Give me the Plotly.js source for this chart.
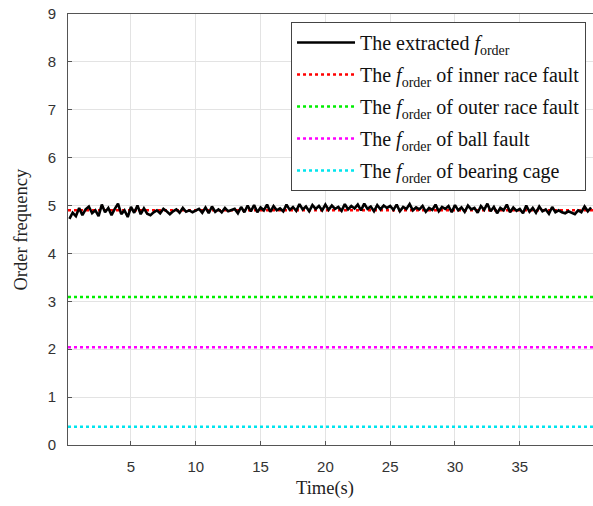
<!DOCTYPE html>
<html>
<head>
<meta charset="utf-8">
<script src="https://cdn.plot.ly/plotly-3.0.1.min.js"></script>
<style>html,body{margin:0;padding:0;background:#fff;}#chart{width:593px;height:506px;}</style>
</head>
<body>
<div id="chart"></div>
<script>
// Time axis (s)
var time = [0.25,0.5,0.75,1.0,1.25,1.5,1.75,2.0,2.25,2.5,2.75,3.0,3.25,3.5,3.75,4.0,
4.25,4.5,4.75,5.0,5.25,5.5,5.75,6.0,6.25,6.5,6.75,7.0,7.25,7.5,7.75,8.0,
8.25,8.5,8.75,9.0,9.25,9.5,9.75,10.0,10.25,10.5,10.75,11.0,11.25,11.5,11.75,12.0,
12.25,12.5,12.75,13.0,13.25,13.5,13.75,14.0,14.25,14.5,14.75,15.0,15.25,15.5,15.75,16.0,
16.25,16.5,16.75,17.0,17.25,17.5,17.75,18.0,18.25,18.5,18.75,19.0,19.25,19.5,19.75,20.0,
20.25,20.5,20.75,21.0,21.25,21.5,21.75,22.0,22.25,22.5,22.75,23.0,23.25,23.5,23.75,24.0,
24.25,24.5,24.75,25.0,25.25,25.5,25.75,26.0,26.25,26.5,26.75,27.0,27.25,27.5,27.75,28.0,
28.25,28.5,28.75,29.0,29.25,29.5,29.75,30.0,30.25,30.5,30.75,31.0,31.25,31.5,31.75,32.0,
32.25,32.5,32.75,33.0,33.25,33.5,33.75,34.0,34.25,34.5,34.75,35.0,35.25,35.5,35.75,36.0,
36.25,36.5,36.75,37.0,37.25,37.5,37.75,38.0,38.25,38.5,38.75,39.0,39.25,39.5,39.75,40.0,
40.25,40.5];
// Extracted order frequency
var extracted = [4.72,4.85,4.78,4.95,4.80,4.92,4.98,4.84,
4.90,4.78,5.02,4.86,4.95,4.80,4.93,5.04,
4.82,4.90,4.76,4.97,4.85,5.00,4.82,4.94,
4.83,4.80,4.86,4.90,4.84,4.93,4.88,4.82,
4.88,4.92,4.85,4.95,4.87,4.90,4.86,4.89,
4.93,4.85,4.96,4.84,4.98,4.87,4.92,4.86,
4.95,4.88,4.90,4.93,4.84,4.97,4.86,5.00,
4.88,5.01,4.86,4.96,4.90,5.02,4.87,4.99,
4.90,4.94,4.88,5.02,4.91,4.97,4.89,5.03,
4.92,4.98,4.88,5.01,4.93,4.99,4.90,5.02,
4.91,5.00,4.93,4.97,4.89,5.03,4.92,4.99,
4.94,5.02,4.90,5.04,4.93,4.98,4.88,5.01,
4.92,5.00,4.95,4.99,4.91,5.02,4.88,4.97,
4.93,5.03,4.90,4.96,4.92,4.99,4.87,4.95,
4.91,5.02,4.88,4.97,4.93,4.99,4.86,5.01,
4.90,4.96,4.87,5.00,4.92,4.95,4.85,4.99,
4.91,5.04,4.88,4.97,4.84,4.95,4.90,5.02,
4.86,4.96,4.89,4.93,4.84,5.00,4.87,4.95,
4.85,4.98,4.88,4.92,4.83,4.97,4.86,4.90,
4.86,4.84,4.88,4.85,4.82,4.90,4.86,4.98,
4.88,4.96];
// Theoretical fault order frequencies
var faultNames = ["inner race fault","outer race fault","ball fault","bearing cage"];
var faultOrders = [4.90, 3.09, 2.04, 0.38];
var faultColors = ["#ff0000","#00ee00","#ff00ff","#00e5ee"];
var timeSpan = [0.14, 40.65];
var xTicks = [5,10,15,20,25,30,35];
var yTicks = [0,1,2,3,4,5,6,7,8,9];

var serif = "'Times New Roman', 'Liberation Serif', serif";
var sans = "Arial, 'Liberation Sans', sans-serif";

var traces = [];
for (var i = 0; i < faultOrders.length; i++) {
  traces.push({
    x: timeSpan, y: [faultOrders[i], faultOrders[i]],
    mode: 'lines', type: 'scatter',
    name: 'The <i>f</i><sub>order</sub> of ' + faultNames[i],
    line: {color: faultColors[i], width: 2.5, dash: 'dot'},
    legendgroup: 'g' + (i + 2),
    legendrank: i + 2
  });
}
traces.push({
  x: time, y: extracted, mode: 'lines', type: 'scatter',
  name: 'The extracted <i>f</i><sub>order</sub>',
  line: {color: '#000000', width: 2.6},
  legendgroup: 'g1',
  legendrank: 1
});

var layout = {
  width: 593, height: 506,
  margin: {l: 68, r: 0, t: 14, b: 61},
  paper_bgcolor: '#ffffff', plot_bgcolor: '#ffffff',
  showlegend: true,
  xaxis: {
    range: timeSpan, tickvals: xTicks, ticktext: xTicks.map(String),
    showgrid: true, gridcolor: '#e3e3e3', gridwidth: 1,
    showline: true, linecolor: '#555', linewidth: 1, mirror: true,
    ticks: 'inside', ticklen: 4, tickcolor: '#555',
    ticklabelstandoff: 8,
    tickfont: {family: sans, size: 15, color: '#333'},
    zeroline: false
  },
  yaxis: {
    range: [0, 9], tickvals: yTicks,
    showgrid: true, gridcolor: '#e3e3e3', gridwidth: 1,
    showline: true, linecolor: '#555', linewidth: 1, mirror: true,
    ticks: 'inside', ticklen: 4, tickcolor: '#555',
    ticklabelstandoff: 8,
    tickfont: {family: sans, size: 15, color: '#333'},
    zeroline: false
  },
  legend: {
    x: 0.4248, y: 0.9814, xanchor: 'left', yanchor: 'top',
    bgcolor: '#ffffff', bordercolor: '#444', borderwidth: 1,
    font: {family: serif, size: 20, color: '#111'},
    itemwidth: 58, tracegroupgap: 3, traceorder: 'grouped'
  },
  annotations: [
    {text: 'Time(s)', xref: 'paper', yref: 'paper', x: 0.4895, y: -0.0998,
     xanchor: 'center', yanchor: 'middle', showarrow: false,
     font: {family: serif, size: 18.5, color: '#222'}},
    {text: 'Order frequency', xref: 'paper', yref: 'paper', x: -0.0914, y: 0.5,
     xanchor: 'center', yanchor: 'middle', textangle: -90, showarrow: false,
     font: {family: serif, size: 18.5, color: '#222'}}
  ]
};

Plotly.newPlot('chart', traces, layout, {displayModeBar: false, staticPlot: true});
</script>
</body>
</html>
